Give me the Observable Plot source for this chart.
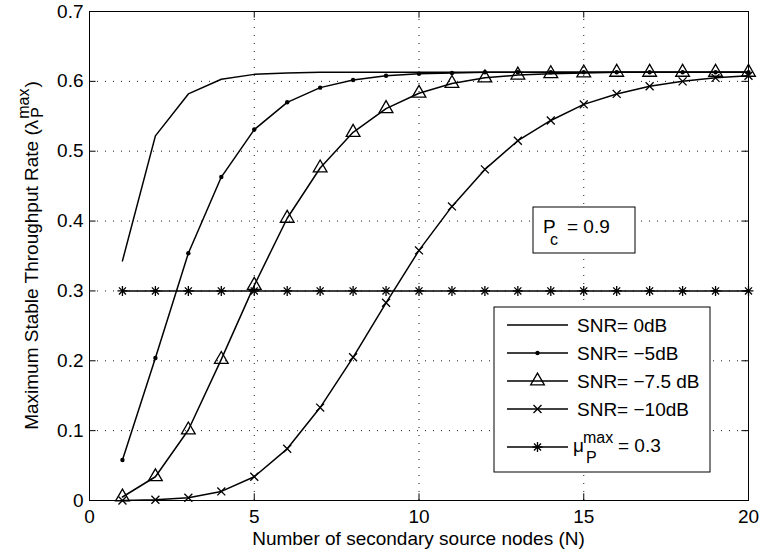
<!DOCTYPE html>
<html><head><meta charset="utf-8">
<script src="https://cdn.jsdelivr.net/npm/d3@7"></script>
<script src="https://cdn.jsdelivr.net/npm/@observablehq/plot@0.6"></script>
<style>
body{margin:0;background:#fff}
#chart{position:relative;width:761px;height:559px}
svg text{font-family:"Liberation Sans",Arial,Helvetica,sans-serif}
</style>
</head><body><div id="chart"></div>
<script>
// ---- data ----
const nodes = [1,2,3,4,5,6,7,8,9,10,11,12,13,14,15,16,17,18,19,20];
const snr0dB   = [0.343,0.522,0.582,0.603,0.610,0.612,0.613,0.613,0.613,0.613,0.613,0.613,0.613,0.613,0.613,0.613,0.613,0.613,0.613,0.613];
const snrM5dB  = [0.058,0.204,0.354,0.463,0.531,0.570,0.591,0.602,0.608,0.611,0.612,0.613,0.613,0.613,0.613,0.613,0.613,0.613,0.613,0.613];
const snrM75dB = [0.005,0.034,0.101,0.202,0.308,0.404,0.476,0.527,0.561,0.583,0.597,0.605,0.609,0.611,0.612,0.613,0.613,0.613,0.613,0.613];
const snrM10dB = [0.000,0.001,0.004,0.013,0.034,0.074,0.133,0.205,0.283,0.358,0.421,0.474,0.515,0.544,0.567,0.582,0.593,0.600,0.605,0.608];
const muMax    = [0.3,0.3,0.3,0.3,0.3,0.3,0.3,0.3,0.3,0.3,0.3,0.3,0.3,0.3,0.3,0.3,0.3,0.3,0.3,0.3];
const seriesNames = ["SNR= 0dB","SNR= \u22125dB","SNR= \u22127.5 dB","SNR= \u221210dB","mu"];
const xTicks = [0,5,10,15,20];
const yTicks = [0,0.1,0.2,0.3,0.4,0.5,0.6,0.7];
const yTickLabels = ["0","0.1","0.2","0.3","0.4","0.5","0.6","0.7"];
const xLabel = "Number of secondary source nodes (N)";
const yLabelMain = "Maximum Stable Throughput Rate (\u03bb";
const annotation = "0.9";

// ---- build table ----
const allSeries = [snr0dB, snrM5dB, snrM75dB, snrM10dB, muMax];
const rows = [];
allSeries.forEach((vals, k) => vals.forEach((v, i) => rows.push({n: nodes[i], v, s: seriesNames[k]})));
const bySeries = name => rows.filter(d => d.s === name);

const FS = 19, FSS = 16;
const markerStroke = 1.3;
const plot = Plot.plot({
  width: 761, height: 559,
  marginLeft: 89, marginRight: 13, marginTop: 11, marginBottom: 59,
  x: {domain: [0, 20]},
  y: {domain: [0, 0.7]},
  style: {fontFamily: '"Liberation Sans",Arial,sans-serif', fontSize: FS + "px", color: "#000", background: "#fff"},
  marks: [
    Plot.gridX(xTicks.slice(1, -1), {stroke: "#000", strokeOpacity: 0.9, strokeDasharray: "1,7", strokeWidth: 1}),
    Plot.gridY(yTicks.slice(1, -1), {stroke: "#000", strokeOpacity: 0.9, strokeDasharray: "1,7", strokeWidth: 1}),
    // inward ticks (bottom, top, left, right)
    Plot.ruleX(xTicks, {y1: 0, y2: 0.0095, stroke: "#000"}),
    Plot.ruleX(xTicks, {y1: 0.6905, y2: 0.7, stroke: "#000"}),
    Plot.ruleY(yTicks, {x1: 0, x2: 0.2, stroke: "#000"}),
    Plot.ruleY(yTicks, {x1: 19.8, x2: 20, stroke: "#000"}),
    Plot.frame({stroke: "#000", strokeWidth: 1}),
    Plot.line(rows, {x: "n", y: "v", z: "s", stroke: "#000", strokeWidth: 1.5}),
    Plot.dot(bySeries(seriesNames[1]), {x: "n", y: "v", r: 2.2, fill: "#000", stroke: "none"}),
    Plot.dot(bySeries(seriesNames[2]), {x: "n", y: "v", r: 5.1, symbol: "triangle", stroke: "#000", fill: "none", strokeWidth: markerStroke}),
    Plot.dot(bySeries(seriesNames[3]), {x: "n", y: "v", r: 3.7, symbol: "times", stroke: "#000", strokeWidth: markerStroke}),
    Plot.dot(bySeries(seriesNames[4]), {x: "n", y: "v", r: 3.3, symbol: "plus", stroke: "#000", strokeWidth: markerStroke}),
    Plot.dot(bySeries(seriesNames[4]), {x: "n", y: "v", r: 3.3, symbol: "times", stroke: "#000", strokeWidth: markerStroke}),
    Plot.axisX(xTicks, {tickSize: 0, tickPadding: 9, label: null, fontSize: FS}),
    Plot.axisY(yTicks, {tickSize: 0, tickPadding: 6, label: null, fontSize: FS, tickFormat: (d, i) => yTickLabels[i]})
  ]
});
document.getElementById("chart").appendChild(plot);

const svg = d3.select(plot);
const font = '"Liberation Sans",Arial,sans-serif';
const sx = plot.scale("x"), sy = plot.scale("y");
const pxLeft = sx.apply(0), pxRight = sx.apply(20), pxTop = sy.apply(0.7), pxBottom = sy.apply(0);
const addText = (parent, x, y, size, str, anchor = "start") =>
  parent.append("text").attr("x", x).attr("y", y).attr("font-size", size).attr("font-family", font)
    .attr("fill", "#000").attr("text-anchor", anchor).text(str);

// x label
addText(svg, (pxLeft + pxRight) / 2, 545, FS, xLabel, "middle");

// y label with sub/superscript
const yl = svg.append("g").attr("transform", `translate(38,${(pxTop + pxBottom) / 2}) rotate(-90)`);
const mainT = addText(yl, 0, 0, FS, yLabelMain);
const L = mainT.node().getComputedTextLength();
const supT = addText(yl, L + 1, -9, FSS, "max");
addText(yl, L + 2, 5, FSS, "P");
const supL = supT.node().getComputedTextLength();
const closeT = addText(yl, L + 2 + supL, 0, FS, ")");
const total = L + 2 + supL + closeT.node().getComputedTextLength();
yl.selectAll("text").attr("dx", -total / 2);

// P_c annotation box
const ann = svg.append("g");
ann.append("rect").attr("x", 533).attr("y", 207).attr("width", 102).attr("height", 46).attr("fill", "#fff").attr("stroke", "#000");
addText(ann, 543, 233, FS, "P");
addText(ann, 550, 245, FSS, "c");
addText(ann, 567, 233, FS, "= " + annotation);

// legend
const lg = svg.append("g");
lg.append("rect").attr("x", 494).attr("y", 307).attr("width", 216).attr("height", 165).attr("fill", "#fff").attr("stroke", "#000");
const rowY = [325, 353, 381, 409, 447];
const sym = (type, r) => d3.symbol(type, Math.PI * r * r)();
seriesNames.forEach((name, i) => {
  const y = rowY[i];
  lg.append("line").attr("x1", 507).attr("x2", 568).attr("y1", y).attr("y2", y).attr("stroke", "#000").attr("stroke-width", 1.5);
  const g = lg.append("g").attr("transform", `translate(537.5,${y})`);
  if (i === 1) g.append("circle").attr("r", 2.2).attr("fill", "#000");
  if (i === 2) g.append("path").attr("d", sym(d3.symbolTriangle, 5.1)).attr("fill", "none").attr("stroke", "#000").attr("stroke-width", markerStroke);
  if (i === 3) g.append("path").attr("d", sym(d3.symbolTimes, 3.7)).attr("fill", "none").attr("stroke", "#000").attr("stroke-width", markerStroke);
  if (i === 4) {
    g.append("path").attr("d", sym(d3.symbolPlus, 3.3)).attr("fill", "none").attr("stroke", "#000").attr("stroke-width", markerStroke);
    g.append("path").attr("d", sym(d3.symbolTimes, 3.3)).attr("fill", "none").attr("stroke", "#000").attr("stroke-width", markerStroke);
  }
  if (i < 4) {
    addText(lg, 577, y + 7, FS, name);
  } else {
    addText(lg, 573, y + 5, FS, "\u03bc");
    addText(lg, 583, y - 4, FSS, "max");
    addText(lg, 586, y + 16, FSS, "P");
    addText(lg, 618, y + 5, FS, "= 0.3");
  }
});
</script>
</body></html>
